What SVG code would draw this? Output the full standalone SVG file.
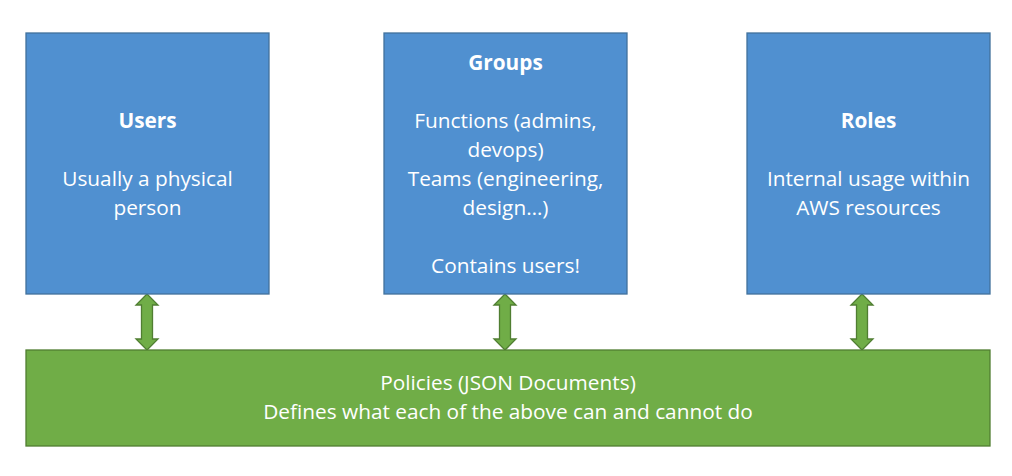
<svg xmlns="http://www.w3.org/2000/svg" width="1012" height="476" viewBox="0 0 1012 476">
<style>
.box{fill:#5090d0;stroke:#41719c;stroke-width:1.3}
.pol{fill:#70ad47;stroke:#507e32;stroke-width:1.3}
.arr{fill:#70ad47;stroke:#507e32;stroke-width:1.3}
text{font-family:"Open Sans","Liberation Sans",Arial,sans-serif;font-size:20.8px;fill:#fff;text-anchor:middle}
.b{font-weight:bold}
</style>
<rect width="1012" height="476" fill="#fff"/>
<g id="connectors">
<path class="arr" d="M147 294 L158 305 L152.5 305 L152.5 339 L158 339 L147 350 L136 339 L141.5 339 L141.5 305 L136 305 Z"/>
<path class="arr" d="M505 294 L516 305 L510.5 305 L510.5 339 L516 339 L505 350 L494 339 L499.5 339 L499.5 305 L494 305 Z"/>
<path class="arr" d="M862 294 L873 305 L867.5 305 L867.5 339 L873 339 L862 350 L851 339 L856.5 339 L856.5 305 L851 305 Z"/>
</g>
<g id="users">
<rect class="box" x="26" y="33" width="243" height="261"/>
<text class="b" x="147.5" y="128">Users</text>
<text x="147.5" y="186">Usually a physical</text>
<text x="147.5" y="215">person</text>
</g>
<g id="groups">
<rect class="box" x="384" y="33" width="243" height="261"/>
<text class="b" x="505.5" y="70">Groups</text>
<text x="505.5" y="128">Functions (admins,</text>
<text x="505.5" y="157">devops)</text>
<text x="505.5" y="186">Teams (engineering,</text>
<text x="505.5" y="215">design…)</text>
<text x="505.5" y="273">Contains users!</text>
</g>
<g id="roles">
<rect class="box" x="747" y="33" width="243" height="261"/>
<text class="b" x="868.5" y="128">Roles</text>
<text x="868.5" y="186">Internal usage within</text>
<text x="868.5" y="215">AWS resources</text>
</g>
<g id="policies">
<rect class="pol" x="26" y="350" width="964" height="96"/>
<text x="508" y="390">Policies (JSON Documents)</text>
<text x="508" y="419">Defines what each of the above can and cannot do</text>
</g>
</svg>
